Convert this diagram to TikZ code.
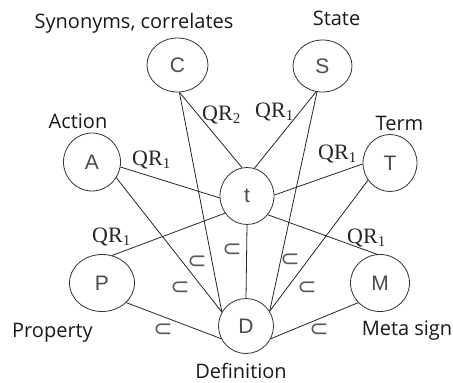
\documentclass[tikz,border=0pt]{standalone}
\usepackage{fontspec}
\setmainfont{Open Sans}
\newfontfamily\letterfont{Liberation Sans}
\newfontfamily\relfont{Liberation Serif}
\newfontfamily\symfont{DejaVu Sans}
\usetikzlibrary{shapes.geometric}
\newcommand{\qrel}[1]{QR\raisebox{-0.32ex}{\fontsize{15}{15}\selectfont #1}}
\begin{document}
\begin{tikzpicture}[x=1pt,y=-1pt,
  vertex/.style={ellipse, draw=black!80, line width=0.8pt, inner sep=0pt,
    font=\letterfont\fontsize{21}{21}\selectfont, text=black!70},
  caption/.style={anchor=base, inner sep=0pt, font=\fontsize{20}{20}\selectfont, text=black!90},
  rel/.style={anchor=base west, inner sep=0pt, font=\relfont\fontsize{22}{22}\selectfont, text=black!85},
  incl/.style={inner sep=0pt, font=\symfont\fontsize{23}{23}\selectfont, text=black!65},
  link/.style={draw=black!85, line width=0.8pt}]
\useasboundingbox[fill=white] (0,0) rectangle (453,383);

% concept nodes
\node[vertex, minimum width=61pt, minimum height=54pt] (C) at (177.5,65) {C};
\node[vertex, minimum width=59pt, minimum height=52pt] (S) at (322.5,66) {S};
\node[vertex, minimum width=57pt, minimum height=58pt] (A) at (92,162) {A};
\node[vertex, minimum width=54pt, minimum height=57pt] (T) at (390,163) {T};
\node[vertex, minimum width=54pt, minimum height=57pt] (t) at (247,196) {t};
\node[vertex, minimum width=65pt, minimum height=57pt] (P) at (102,283) {P};
\node[vertex, minimum width=59pt, minimum height=57pt] (M) at (380,283) {M};
\node[vertex, minimum width=55pt, minimum height=55pt] (D) at (246,326) {D};

% captions
\node[caption] (capC) at (134,28) {Synonyms, correlates};
\node[caption] (capS) at (336.5,25) {State};
\node[caption] (capA) at (78,128) {Action};
\node[caption] (capT) at (399.5,130) {Term};
\node[caption] (capP) at (52.5,337) {Property};
\node[caption] (capM) at (407,335) {Meta sign};
\node[caption] (capD) at (241,378) {Definition};

% links to the term t
\draw[link] (C.274) -- (t.100);
\draw[link] (S.256) -- (t.75);
\draw[link] (A.350) -- (t.184);
\draw[link] (T.182) -- (t.2);
\draw[link] (P.70) -- (t.218);
\draw[link] (M.96) -- (t.318);

% inclusions into the definition D
\draw[link] (C.274) -- (D.150);
\draw[link] (S.258) -- (D.32);
\draw[link] (A.327) -- (D.150);
\draw[link] (T.218) -- (D.32);
\draw[link] (P.321) -- (D.207);
\draw[link] (M.222) -- (D.333);
\draw[link] (t.270) -- (D.90);

% relation labels
\node[rel] (q1) at (202,120) {\qrel{2}};
\node[rel] (q2) at (255,117) {\qrel{1}};
\node[rel] (q3) at (132,165) {\qrel{1}};
\node[rel] (q4) at (318,159) {\qrel{1}};
\node[rel] (q5) at (92,242) {\qrel{1}};
\node[rel] (q6) at (347,243) {\qrel{1}};

% inclusion marks
\node[incl] (i1) at (232,250) {⊂};
\node[incl] (i2) at (197,262) {⊂};
\node[incl] (i3) at (180,288) {⊂};
\node[incl] (i4) at (163,330) {⊂};
\node[incl] (i5) at (290,260) {⊂};
\node[incl] (i6) at (307,288) {⊂};
\node[incl] (i7) at (319,330) {⊂};
\end{tikzpicture}
\end{document}
